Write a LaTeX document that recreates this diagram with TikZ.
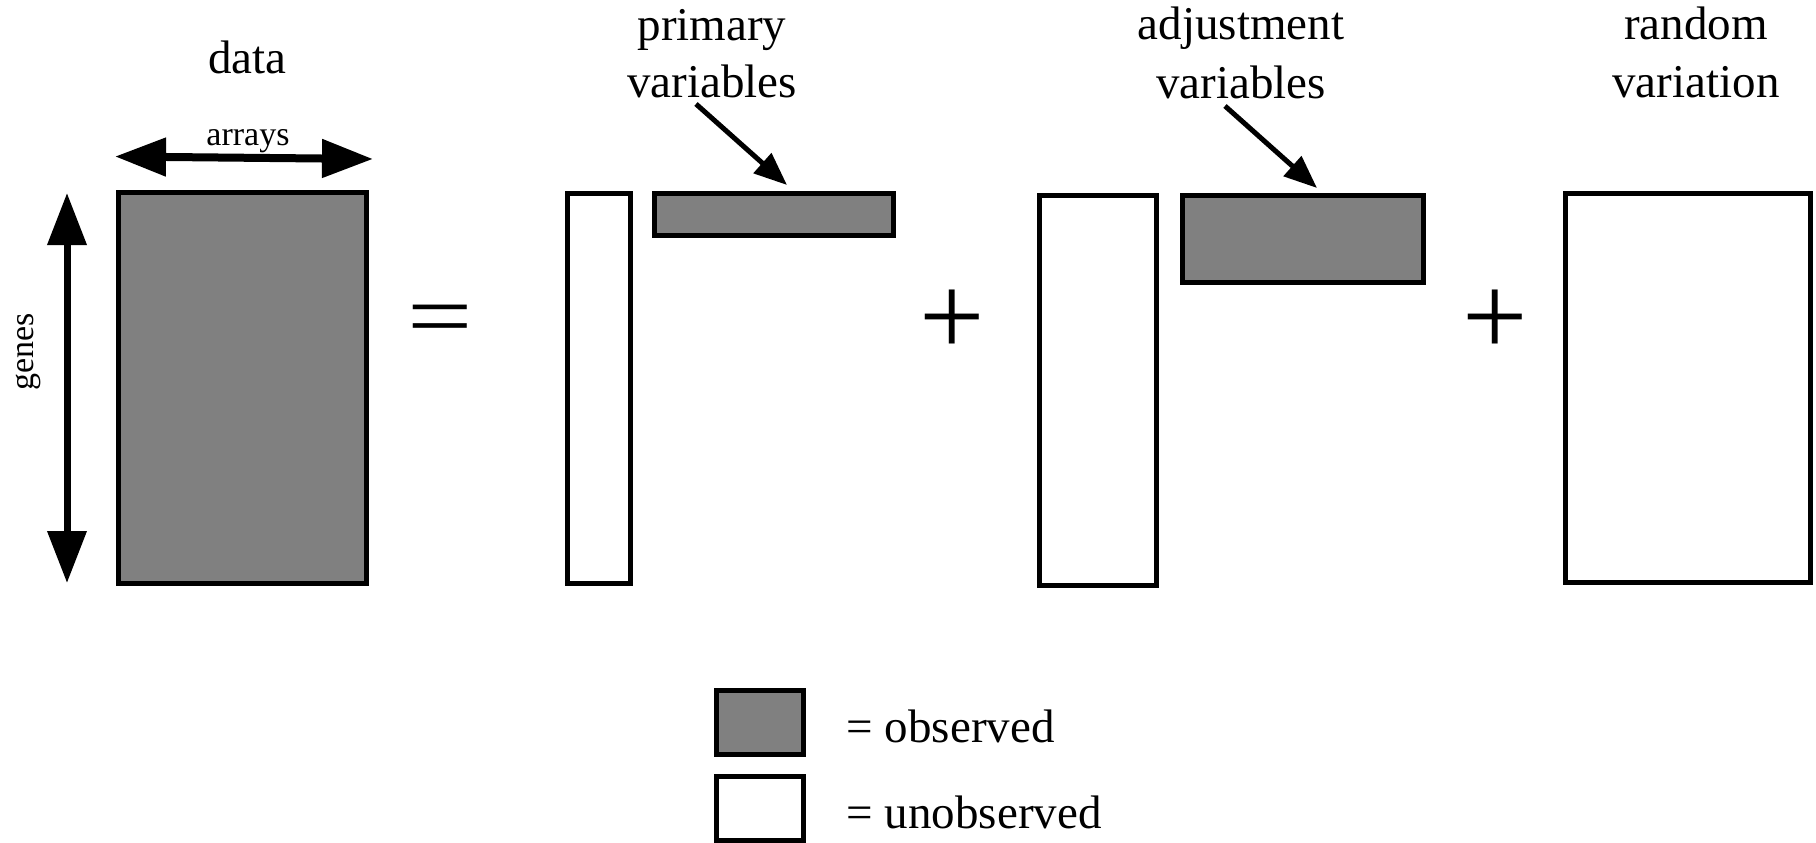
\documentclass[tikz,border=0pt]{standalone}
\usepackage{fontspec}
\setmainfont{Liberation Serif}
\usetikzlibrary{arrows.meta}
\definecolor{obsgray}{RGB}{128,128,128}
\begin{document}
\begin{tikzpicture}[x=1pt,y=-1pt,
  box/.style={draw=black, line width=5pt, inner sep=0pt, outer sep=0pt},
  observed/.style={box, fill=obsgray},
  unobserved/.style={box, fill=white},
  title/.style={font=\fontsize{47}{57}\selectfont, inner sep=0pt, anchor=base},
  small/.style={font=\fontsize{34}{40}\selectfont, inner sep=0pt, anchor=base},
  op/.style={font=\fontsize{116}{120}\selectfont, inner sep=0pt},
  dimh/.style={line width=8pt, {Triangle[length=51pt,width=37pt]}-{Triangle[length=51pt,width=37pt]}},
  dimv/.style={line width=7pt, {Triangle[length=52pt,width=38pt]}-{Triangle[length=52pt,width=38pt]}},
  pointer/.style={line width=5pt, -{Triangle[length=33pt,width=26pt]}}]
\useasboundingbox (0,0) rectangle (1816,843);

% matrices of the model
\node[observed, minimum width=248pt, minimum height=391pt] (data) at (242.5,388) {};
\node[unobserved, minimum width=63pt, minimum height=390pt] (pcol) at (599,388.5) {};
\node[observed, minimum width=239pt, minimum height=42pt] (prow) at (774,214.5) {};
\node[unobserved, minimum width=117pt, minimum height=390pt] (acol) at (1098,390.5) {};
\node[observed, minimum width=241pt, minimum height=87pt] (arow) at (1303,239) {};
\node[unobserved, minimum width=245pt, minimum height=389pt] (rand) at (1688,388) {};

% key
\node[observed, minimum width=87pt, minimum height=64pt] (keyobs) at (760,722.5) {};
\node[unobserved, minimum width=87pt, minimum height=64pt] (keyunobs) at (760,808.5) {};
\node[title, anchor=base west] (kobs) at (846.5,742) {= observed};
\node[title, anchor=base west] (kunobs) at (846.5,828) {= unobserved};

% titles
\node[title] (tdata) at (247.5,74) {data};
\node[small] (tarrays) at (248,145) {arrays};
\node[small, rotate=90] (tgenes) at (33,352) {genes};
\node[title] (tprim) at (712,41) {primary};
\node[title] (tpvar) at (712,98) {variables};
\node[title] (tadj) at (1241,40) {adjustment};
\node[title] (tavar) at (1241,99) {variables};
\node[title] (trand) at (1696,40) {random};
\node[title] (trvar) at (1696,98) {variation};

% operators
\begin{scope}[shift={(440,326)}, yscale=0.8]
  \node[op, transform shape] (eq) at (0,0) {=};
\end{scope}
\node[op] (plus1) at (952,323) {+};
\node[op] (plus2) at (1495.5,323) {+};

% dimension arrows
\coordinate (arrL) at (115,156.5);
\coordinate (arrR) at (373,159);
\draw[dimh] (arrL) -- (arrR);
\coordinate (genT) at (67,193);
\coordinate (genB) at (67,583);
\draw[dimv] (genT) -- (genB);

% pointers to the observed rows
\coordinate (pfrom) at (696,104);
\coordinate (pto) at (787,185);
\draw[pointer] (pfrom) -- (pto);
\coordinate (afrom) at (1225,106);
\coordinate (ato) at (1317,188);
\draw[pointer] (afrom) -- (ato);
\end{tikzpicture}
\end{document}
